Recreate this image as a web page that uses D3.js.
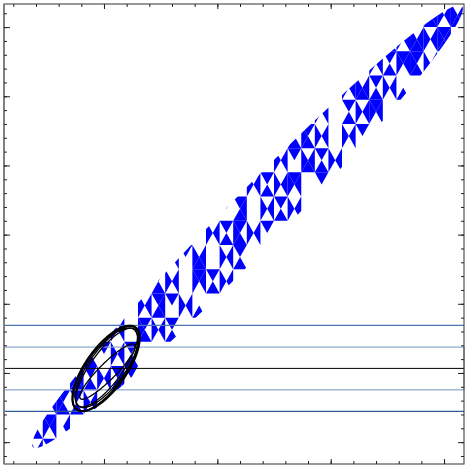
<!DOCTYPE html>
<html><head><meta charset="utf-8">
<script src="https://cdn.jsdelivr.net/npm/d3@7"></script>
<style>body{margin:0;background:#fff} svg{display:block}</style>
</head><body>
<svg id="chart" width="465" height="465"></svg>
<script>
// tick values (no labels in the picture)
const xTickValues = d3.range(-4, 16);
const xMajorValues = [0, 5, 10, 15];
const yTickValues = d3.range(-1, 32);
const yMajorValues = [0, 5, 10, 15, 20, 25, 30];

// reference levels: mean, +-1 sd, +-2 sd
const meanLevel = 5.33;
const sdBand = [3.78, 6.87];
const sd2Levels = [8.44, 2.22];

// confidence ellipses
const ellCx  = [0.09, 0.05, 0.15, 0.12, 0.15];
const ellCy  = [5.33, 5.25, 5.45, 5.40, 5.10];
const ellSx  = [1.48, 1.44, 1.42, 1.36, 1.22];
const ellSy  = [3.08, 3.00, 2.95, 2.85, 2.00];
const ellRho = [0.70, 0.72, 0.75, 0.79, 0.91];
const ellW   = [2.2, 1.3, 1.3, 1.3, 1.3];

// band envelope (tips of the long axis, data units)
const bandTipA = [-3.13, -0.36];
const bandTipB = [15.79, 31.53];
const bandHalfWidth = 28; // px

// triangulated band: grid cells, each hex digit = filled triangles
// (1 bottom, 2 right, 4 top, 8 left)
const gridX0 = -4.5, gridY0 = -1.5, cellW = 0.6, cellH = 1.75;
const bandStart = [0,0,2,4,5,7,9,11,12,14,16,18,19,21,23,24,26,28,30];
const bandRows = [
  "05a4c0", "0a5e20", "4ad5a1", "0b5a74", "a54a50",
  "4a0da5", "0a74a1", "5a0e5a", "a4b0a5", "0a5da4",
  "470a5a", "a5ae04", "0a4b5a", "5da0a4", "a05ae0",
  "4ab5a1", "0a5eda", "5abaf0", "0fabff"
];

const svg = d3.select("#chart");
const x = d3.scaleLinear().domain([-4.41, 15.88]).range([4, 464]);
const y = d3.scaleLinear().domain([-1.58, 31.67]).range([464, 4]);

// clip: band envelope inside the frame
const ax = x(bandTipA[0]), ay = y(bandTipA[1]), bx = x(bandTipB[0]), by = y(bandTipB[1]);
const defs = svg.append("defs");
defs.append("clipPath").attr("id", "bandClip")
  .append("ellipse")
  .attr("cx", (ax + bx) / 2).attr("cy", (ay + by) / 2)
  .attr("rx", Math.hypot(bx - ax, by - ay) / 2).attr("ry", bandHalfWidth)
  .attr("transform", `rotate(${Math.atan2(by - ay, bx - ax) * 180 / Math.PI},${(ax + bx) / 2},${(ay + by) / 2})`);
defs.append("clipPath").attr("id", "plotClip")
  .append("rect").attr("x", 4).attr("y", 4).attr("width", 460).attr("height", 460);

// band triangles
const tris = [];
bandRows.forEach((row, j) => {
  for (let k = 0; k < row.length; k++) {
    const m = parseInt(row[k], 16);
    if (!m) continue;
    const x0 = gridX0 + (bandStart[j] + k) * cellW, x1 = x0 + cellW;
    const y0 = gridY0 + j * cellH, y1 = y0 + cellH;
    const cx = (x0 + x1) / 2, cy = (y0 + y1) / 2;
    if (m & 1) tris.push([[x0, y0], [x1, y0], [cx, cy]]);
    if (m & 2) tris.push([[x1, y0], [x1, y1], [cx, cy]]);
    if (m & 4) tris.push([[x1, y1], [x0, y1], [cx, cy]]);
    if (m & 8) tris.push([[x0, y1], [x0, y0], [cx, cy]]);
  }
});
svg.append("g").attr("clip-path", "url(#plotClip)")
  .append("g").attr("clip-path", "url(#bandClip)")
  .selectAll("path").data(tris).join("path")
  .attr("d", t => "M" + t.map(p => x(p[0]) + "," + y(p[1])).join("L") + "Z")
  .attr("fill", "#0000ff");

// sd band + lines
svg.append("rect")
  .attr("x", x.range()[0]).attr("width", x.range()[1] - x.range()[0])
  .attr("y", y(sdBand[1])).attr("height", y(sdBand[0]) - y(sdBand[1]))
  .attr("fill", "none").attr("stroke", "#8ca6cc").attr("stroke-width", 1.2);
svg.append("g").selectAll("line").data(sd2Levels).join("line")
  .attr("x1", x.range()[0]).attr("x2", x.range()[1])
  .attr("y1", d => y(d)).attr("y2", d => y(d))
  .attr("stroke", (d, i) => i ? "#2e5c96" : "#4d76ad").attr("stroke-width", 1.2);
svg.append("line")
  .attr("x1", x.range()[0]).attr("x2", x.range()[1])
  .attr("y1", y(meanLevel)).attr("y2", y(meanLevel))
  .attr("stroke", "#000").attr("stroke-width", 1);

// ellipses
const ellLine = d3.line().x(p => x(p[0])).y(p => y(p[1]));
ellCx.forEach((cx, i) => {
  const r = ellRho[i], q = Math.sqrt(1 - r * r);
  const pts = d3.range(0, 361, 3).map(a => {
    const t = a * Math.PI / 180;
    return [cx + ellSx[i] * Math.cos(t), ellCy[i] + ellSy[i] * (r * Math.cos(t) + q * Math.sin(t))];
  });
  svg.append("path").attr("d", ellLine(pts))
    .attr("fill", "none").attr("stroke", "#000").attr("stroke-width", ellW[i]);
});

// frame + inward ticks
const frame = svg.append("g");
frame.append("rect").attr("x", 4).attr("y", 4).attr("width", 460).attr("height", 460)
  .attr("fill", "none").attr("stroke", "#333").attr("stroke-width", 1);
frame.append("line").attr("x1", 4).attr("x2", 4).attr("y1", 4).attr("y2", 464)
  .attr("stroke", "#808080").attr("stroke-width", 2);

function ticks(axisFn, scale, vals, size, tr) {
  const g = frame.append("g").attr("transform", tr)
    .call(axisFn(scale).tickValues(vals).tickSize(-size).tickFormat(""));
  g.select(".domain").remove();
  g.selectAll("line").attr("stroke", "#222");
}
ticks(d3.axisTop, x, xTickValues, 3, "translate(0,4)");
ticks(d3.axisTop, x, xMajorValues, 5, "translate(0,4)");
ticks(d3.axisBottom, x, xTickValues, 3, "translate(0,464)");
ticks(d3.axisBottom, x, xMajorValues, 5, "translate(0,464)");
ticks(d3.axisLeft, y, yTickValues, 3, "translate(4,0)");
ticks(d3.axisLeft, y, yMajorValues, 6, "translate(4,0)");
ticks(d3.axisRight, y, yTickValues, 3, "translate(464,0)");
ticks(d3.axisRight, y, yMajorValues, 6, "translate(464,0)");
</script>
</body></html>
